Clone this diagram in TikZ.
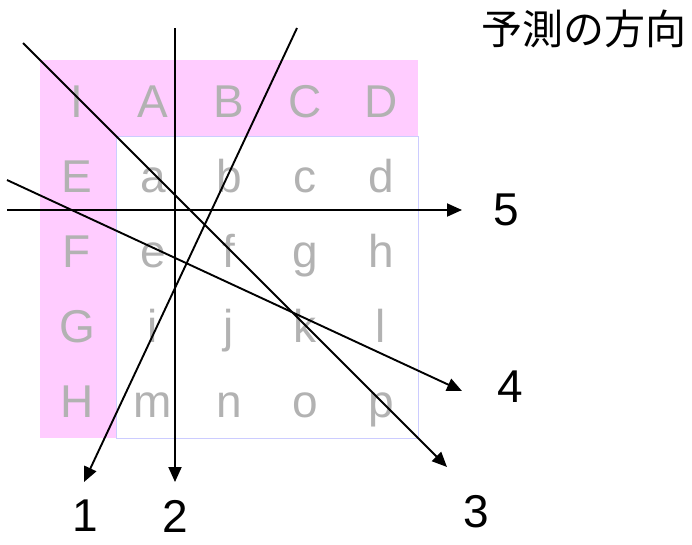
\documentclass[tikz,border=0pt]{standalone}
\usepackage{fontspec}
\setmainfont{Liberation Sans}
\newfontfamily\jpfont{Noto Sans CJK JP}
\usetikzlibrary{arrows.meta}
\definecolor{headpink}{RGB}{255,204,255}
\definecolor{cellgray}{RGB}{178,178,178}
\definecolor{gridblue}{RGB}{204,204,255}

\begin{document}
\begin{tikzpicture}[x=1pt,y=-1pt, every node/.style={inner sep=0pt},
  cell/.style={font=\fontsize{46}{46}\selectfont,text=cellgray,anchor=base},
  dirlabel/.style={font=\fontsize{46}{46}\selectfont},
  dirarrow/.style={-{Triangle[length=15pt,width=13pt]},line width=1.9pt}]
  \useasboundingbox (0,0) rectangle (692,544);
  % header strip and column
  \fill[headpink] (40,60) rectangle (418,136);
  \fill[headpink] (40,136) rectangle (116,438);
  \draw[gridblue,line width=1pt] (116,136) rectangle (418,438);
  % letters
  \node[cell] (hI) at (77,117) {I};
  \foreach \l [count=\i] in {A,B,C,D}{\node[cell] (h\l) at (77+76*\i,117) {\l};}
  \foreach \l [count=\j] in {E,F,G,H}{\node[cell] (v\l) at (77,117+75*\j) {\l};}
  \foreach \l [count=\k from 0] in {a,b,c,d,e,f,g,h,i,j,k,l,m,n,o,p}{
    \pgfmathtruncatemacro\cc{mod(\k,4)+1}
    \pgfmathtruncatemacro\rr{div(\k,4)+1}
    \node[cell] (c\l) at (77+76*\cc,117+75*\rr) {\l};}
  % direction arrows
  \coordinate (s1) at (297,28);  \coordinate (e1) at (84,482);
  \coordinate (s2) at (175,28);  \coordinate (e2) at (175,482);
  \coordinate (s3) at (23,43);   \coordinate (e3) at (447,467);
  \coordinate (s4) at (7,180);   \coordinate (e4) at (462,391);
  \coordinate (s5) at (7,210);   \coordinate (e5) at (462,210);
  \foreach \n in {1,...,5}{\draw[dirarrow] (s\n) -- (e\n);}
  % labels
  \node[dirlabel] (n1) at (85,516) {1};
  \node[dirlabel] (n2) at (175,516) {2};
  \node[dirlabel] (n3) at (476,512) {3};
  \node[dirlabel] (n4) at (510,387) {4};
  \node[dirlabel] (n5) at (506,210) {5};
  \node[font=\jpfont\fontsize{41}{41}\selectfont] (title) at (584,29) {予測の方向};
\end{tikzpicture}
\end{document}
